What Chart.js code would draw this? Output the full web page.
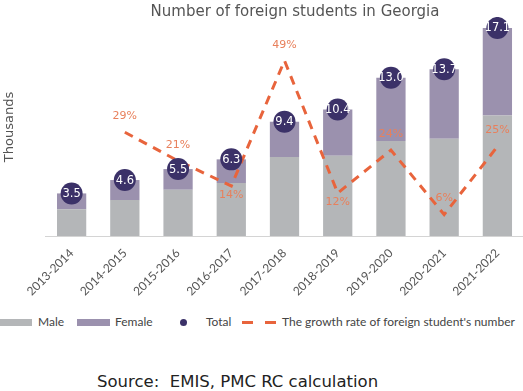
<!DOCTYPE html>
<html><head><meta charset="utf-8">
<script src="https://cdn.jsdelivr.net/npm/chart.js@4/dist/chart.umd.min.js"></script>
<style>
html,body{margin:0;padding:0;background:#fff;width:523px;height:391px;overflow:hidden}
#wrap{position:absolute;left:0;top:0;width:535px;height:300px}
.lg{position:absolute;font:12px Lato,sans-serif;color:#444;line-height:14px;top:315px;white-space:nowrap}
.sw{position:absolute}
#src{position:absolute;left:97px;top:372px;font:16.5px "DejaVu Sans",sans-serif;color:#222;white-space:nowrap}
</style></head><body>
<div id="wrap"><canvas id="c" width="535" height="300"></canvas></div>
<div class="sw" style="left:0;top:319px;width:32px;height:7px;background:#b4b6b8"></div>
<div class="lg" style="left:38px">Male</div>
<div class="sw" style="left:77px;top:319px;width:33px;height:7px;background:#9b91ae"></div>
<div class="lg" style="left:115px">Female</div>
<div class="sw" style="left:180px;top:319px;width:7px;height:7px;border-radius:50%;background:#3b3168"></div>
<div class="lg" style="left:206px">Total</div>
<div class="sw" style="left:242px;top:321px;width:11px;height:3px;background:#e8643c"></div>
<div class="sw" style="left:265px;top:321px;width:11px;height:3px;background:#e8643c"></div>
<div class="lg" style="left:282px">The growth rate of foreign student's number</div>
<div id="src">Source:&nbsp; EMIS, PMC RC calculation</div>
<script>
const categories = ["2013-2014","2014-2015","2015-2016","2016-2017","2017-2018","2018-2019","2019-2020","2020-2021","2021-2022"];
const male   = [2.2, 2.95, 3.8, 4.35, 6.5, 6.6, 7.8, 8.0, 9.9];
const female = [1.3, 1.65, 1.7, 1.95, 2.9, 3.8, 5.2, 5.7, 7.2];
const total  = [3.5, 4.6, 5.5, 6.3, 9.4, 10.4, 13.0, 13.7, 17.1];
const growth = [null, 29, 21, 14, 49, 12, 24, 6, 25];
const growthLabelSide = ["", "above","above","below","above","below","above","above","above"];

const COL_MALE = '#b4b6b8', COL_FEMALE = '#9b91ae', COL_TOTAL = '#3b3168', COL_LINE = '#e8643c', COL_LBL = '#e8805c';

const labelPlugin = {
  id: 'labels',
  afterDatasetsDraw(chart) {
    const ctx = chart.ctx;
    ctx.save();
    const lm = chart.getDatasetMeta(2);
    ctx.font = '11px "DejaVu Sans"';
    ctx.fillStyle = COL_LBL;
    ctx.textAlign = 'center';
    ctx.textBaseline = 'middle';
    growth.forEach((v, i) => {
      if (v === null) return;
      const p = lm.data[i];
      const dy = growthLabelSide[i] === 'below' ? 9 : -16;
      ctx.fillText(v + '%', p.x, p.y + dy);
    });
    const tm = chart.getDatasetMeta(3);
    ctx.font = '11.5px "DejaVu Sans"';
    ctx.fillStyle = '#ffffff';
    total.forEach((v, i) => {
      const p = tm.data[i];
      ctx.fillText(v.toFixed(1), p.x, p.y + 0.5);
    });
    ctx.restore();
  },
  afterDraw(chart) {
    const ctx = chart.ctx;
    ctx.save();
    ctx.fillStyle = '#555';
    ctx.font = '15px "DejaVu Sans"';
    ctx.textAlign = 'center';
    ctx.textBaseline = 'middle';
    ctx.fillText('Number of foreign students in Georgia', 295, 12);
    ctx.translate(10, 127);
    ctx.rotate(-Math.PI / 2);
    ctx.font = '13px "DejaVu Sans"';
    ctx.fillText('Thousands', 0, 0);
    ctx.restore();
  }
};

new Chart(document.getElementById('c'), {
  data: {
    labels: categories,
    datasets: [
      { type: 'bar', label: 'Male', data: male, backgroundColor: COL_MALE, stack: 'g', yAxisID: 'y', order: 3, barPercentage: 0.55, categoryPercentage: 1 },
      { type: 'bar', label: 'Female', data: female, backgroundColor: COL_FEMALE, stack: 'g', yAxisID: 'y', order: 3, barPercentage: 0.55, categoryPercentage: 1 },
      { type: 'line', label: "The growth rate of foreign student's number", data: growth, yAxisID: 'y2', borderColor: COL_LINE, borderWidth: 3, borderDash: [9, 7], pointRadius: 0, fill: false, tension: 0, spanGaps: false, order: 2 },
      { type: 'line', label: 'Total', data: total, yAxisID: 'y', stack: 'tot', showLine: false, pointRadius: 11, pointHoverRadius: 11, pointBackgroundColor: COL_TOTAL, pointBorderColor: COL_TOTAL, pointBorderWidth: 0, order: 1 }
    ]
  },
  options: {
    responsive: false,
    animation: false,
    layout: { padding: { top: 17, left: 45, right: 0, bottom: 4 } },
    plugins: { legend: { display: false }, tooltip: { enabled: false } },
    scales: {
      x: {
        stacked: true,
        grid: { display: false },
        border: { display: true, color: '#d4d4d4' },
        ticks: { color: '#555', font: { family: 'Lato', size: 12 }, minRotation: 45, maxRotation: 45, padding: 2 },
        afterFit(s) { s.height = 60; }
      },
      y: { display: false, stacked: true, min: 0, max: 18 },
      y2: { display: false, position: 'right', min: 0, max: 61.2 }
    }
  },
  plugins: [labelPlugin]
});
</script>
</body></html>
